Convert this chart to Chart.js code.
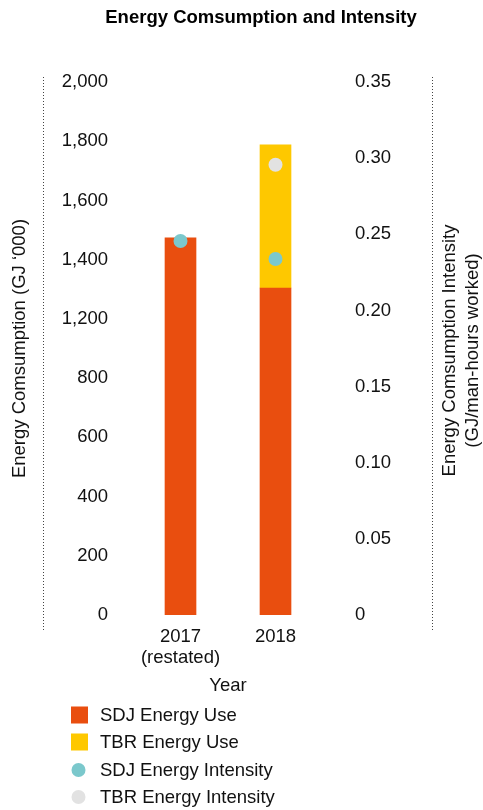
<!DOCTYPE html>
<html>
<head>
<meta charset="utf-8">
<title>Energy Comsumption and Intensity</title>
<script src="https://cdn.jsdelivr.net/npm/chart.js@4.4.1/dist/chart.umd.min.js"></script>
<style>
    html, body { margin: 0; padding: 0; background: #fff; }
    #wrap { position: relative; width: 483px; height: 810px; }
</style>
</head>
<body>
<div id="wrap"><canvas id="energyChart"></canvas></div>
<script>
// --- Data (GJ '000 on the left axis, GJ/man-hours on the right) ---
const years = [['2017', '(restated)'], '2018'];
const sdjEnergyUse = [1415, 1227];
const tbrEnergyUse = [null, 537];
const sdjIntensity = [0.2456, 0.2338];
const tbrIntensity = [null, 0.2957];

// tick labels as printed on the original (note: no 1,000)
const energyTickLabels = ['0', '200', '400', '600', '800', '1,200', '1,400', '1,600', '1,800', '2,000'];
const energyMax = 2000;
const intensityTicks = [0, 0.05, 0.10, 0.15, 0.20, 0.25, 0.30, 0.35];
const intensityTickLabels = ['0', '0.05', '0.10', '0.15', '0.20', '0.25', '0.30', '0.35'];

const FONT = 'Liberation Sans, Arial, Helvetica, sans-serif';
const TEXT = '#111';

Chart.defaults.font.family = FONT;
Chart.defaults.font.size = 18.5;
Chart.defaults.color = TEXT;

// dotted frame lines, title, right axis title and legend
const decorPlugin = {
    id: 'decor',
    afterDraw(chart) {
        const ctx = chart.ctx;
        const area = chart.chartArea;
        ctx.save();

        // dotted vertical lines
        ctx.strokeStyle = '#444';
        ctx.lineWidth = 1;
        ctx.setLineDash([1, 2]);
        [43.5, 432.5].forEach(x => {
            ctx.beginPath();
            ctx.moveTo(x, area.top - 5);
            ctx.lineTo(x, area.bottom + 16);
            ctx.stroke();
        });
        ctx.setLineDash([]);

        // title
        ctx.fillStyle = '#000';
        ctx.font = 'bold 18.5px ' + FONT;
        ctx.textAlign = 'center';
        ctx.textBaseline = 'middle';
        ctx.fillText('Energy Comsumption and Intensity', 261, 18);

        // right axis title, rotated like the left one
        ctx.font = '18.5px ' + FONT;
        ctx.fillStyle = TEXT;
        const cy = (area.top + area.bottom) / 2 + 2;
        [['Energy Comsumption Intensity', 450], ['(GJ/man-hours worked)', 473]].forEach(([txt, x]) => {
            ctx.save();
            ctx.translate(x, cy);
            ctx.rotate(-Math.PI / 2);
            ctx.fillText(txt, 0, 0);
            ctx.restore();
        });

        // legend
        ctx.textAlign = 'left';
        const rowY = [715, 742, 770, 797];
        chart.data.datasets.forEach((ds, i) => {
            const y = rowY[i];
            if (ds.type === 'bar') {
                ctx.fillStyle = ds.backgroundColor;
                ctx.fillRect(71, y - 8.5, 17, 17);
            } else {
                ctx.fillStyle = ds.pointBackgroundColor;
                ctx.beginPath();
                ctx.arc(78.5, y, 7, 0, Math.PI * 2);
                ctx.fill();
            }
            ctx.fillStyle = TEXT;
            ctx.fillText(ds.label, 100, y + 1);
        });

        ctx.restore();
    }
};

new Chart(document.getElementById('energyChart'), {
    data: {
        labels: years,
        datasets: [
            {
                type: 'bar',
                label: 'SDJ Energy Use',
                data: sdjEnergyUse,
                backgroundColor: '#e94e0f',
                borderWidth: 0,
                barThickness: 31,
                yAxisID: 'y',
                order: 2
            },
            {
                type: 'bar',
                label: 'TBR Energy Use',
                data: tbrEnergyUse,
                backgroundColor: '#fec800',
                borderWidth: 0,
                barThickness: 31,
                yAxisID: 'y',
                order: 2
            },
            {
                type: 'line',
                label: 'SDJ Energy Intensity',
                data: sdjIntensity,
                showLine: false,
                pointRadius: 7,
                pointBorderWidth: 0,
                pointBackgroundColor: '#7bc8cc',
                yAxisID: 'y1',
                order: 1
            },
            {
                type: 'line',
                label: 'TBR Energy Intensity',
                data: tbrIntensity,
                showLine: false,
                pointRadius: 7,
                pointBorderWidth: 0,
                pointBackgroundColor: '#e2e2e2',
                yAxisID: 'y1',
                order: 1
            }
        ]
    },
    options: {
        responsive: true,
        maintainAspectRatio: false,
        animation: false,
        layout: { padding: { top: 82, bottom: 113, left: 0, right: 0 } },
        plugins: {
            legend: { display: false },
            title: { display: false },
            tooltip: { enabled: false }
        },
        scales: {
            x: {
                stacked: true,
                grid: { display: false },
                border: { display: false },
                ticks: {
                    color: TEXT,
                    padding: 3.5,
                    font: { size: 18.5, lineHeight: '21px' },
                    maxRotation: 0
                },
                title: { display: true, text: 'Year', color: TEXT, padding: { top: 0, bottom: 0 } },
                afterFit(scale) { scale.height = 82; }
            },
            y: {
                position: 'left',
                stacked: true,
                min: 0,
                max: energyMax,
                grid: { display: false },
                border: { display: false },
                afterBuildTicks(scale) {
                    const n = energyTickLabels.length;
                    scale.ticks = energyTickLabels.map((_, i) => ({ value: i * energyMax / (n - 1) }));
                },
                ticks: {
                    color: TEXT,
                    padding: 17,
                    callback: (v, i) => energyTickLabels[i]
                },
                title: {
                    display: true,
                    text: 'Energy Comsumption (GJ \u2018000)',
                    color: TEXT,
                    padding: { top: 9, bottom: 0 }
                },
                afterFit(scale) { scale.width = 133; }
            },
            y1: {
                position: 'right',
                min: 0,
                max: 0.35,
                grid: { display: false },
                border: { display: false },
                afterBuildTicks(scale) {
                    scale.ticks = intensityTicks.map(v => ({ value: v }));
                },
                ticks: {
                    color: TEXT,
                    padding: 24,
                    callback: (v, i) => intensityTickLabels[i]
                },
                afterFit(scale) { scale.width = 160; }
            }
        }
    },
    plugins: [decorPlugin]
});
</script>
</body>
</html>
